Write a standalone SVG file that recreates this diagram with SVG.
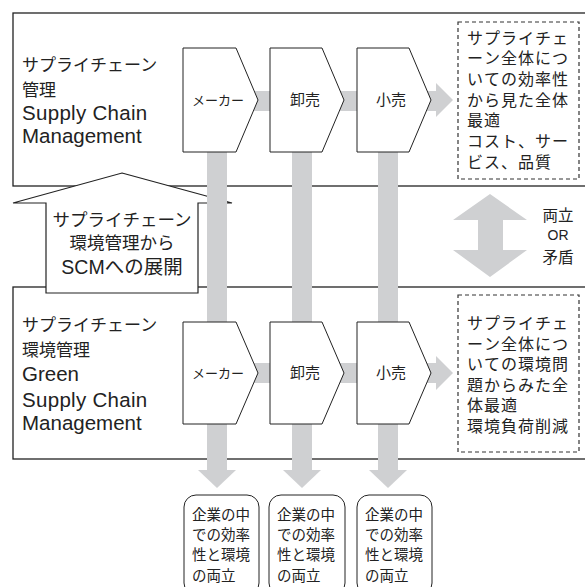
<svg xmlns="http://www.w3.org/2000/svg" width="585" height="587" viewBox="0 0 585 587">
<style>
.panel{fill:#fff;stroke:#222;stroke-width:1.3}
.chev{fill:#fff;stroke:#222;stroke-width:1}
.gray{fill:#cfd0d2;stroke:none}
.dash{fill:#fff;stroke:#333;stroke-width:1.2;stroke-dasharray:4 3}
.rbox{fill:#fff;stroke:#222;stroke-width:1}
.up{fill:#fff;stroke:#222;stroke-width:1.2}
text{font-family:"Liberation Sans","Noto Sans CJK JP",sans-serif;fill:#222}
.title{font-size:17px}
.lat{font-size:20.5px}
.note{font-size:16px}
.lbl{font-size:15px;text-anchor:middle}
.small{font-size:14.5px}
</style>
<rect width="585" height="587" fill="#fff"/>
<g id="panel-scm"><rect class="panel" x="13" y="13" width="600" height="173"/></g>
<g id="panel-gscm"><rect class="panel" x="13" y="287" width="600" height="172"/></g>
<g id="expand-arrow">
<polygon class="up" points="122,173 232,203 198,203 198,293 46,293 46,203 13,203"/>
</g>
<g id="connectors">
<rect class="gray" x="207" y="150" width="20" height="321"/>
<polygon class="gray" points="198,470 236,470 217,488"/>
<rect class="gray" x="292" y="150" width="20" height="321"/>
<polygon class="gray" points="283,470 321,470 302,488"/>
<rect class="gray" x="378" y="150" width="20" height="321"/>
<polygon class="gray" points="369,470 407,470 388,488"/>
<rect class="gray" x="245" y="91" width="30" height="20"/>
<rect class="gray" x="330" y="91" width="30" height="20"/>
<rect class="gray" x="420" y="91" width="17" height="20"/>
<polygon class="gray" points="436,83 453,100 436,117"/>
<rect class="gray" x="245" y="363" width="30" height="20"/>
<rect class="gray" x="330" y="363" width="30" height="20"/>
<rect class="gray" x="420" y="363" width="17" height="20"/>
<polygon class="gray" points="436,356 453,373 436,390"/>
<polygon class="gray" points="490,194 527,220 503,220 503,250 527,250 490,277 453,250 478,250 478,220 453,220"/>
</g>
<g id="scm-title">
<text class="title" x="22" y="71">サプライチェーン</text>
<text class="title" x="22" y="96">管理</text>
<text class="lat" x="22" y="120" style="letter-spacing:0.3px">Supply Chain</text>
<text class="lat" x="22" y="143">Management</text>
</g>
<g id="scm-maker"><polygon class="chev" points="183,48 236,48 258,100 236,152 183,152"/><text x="218" y="105" style="font-size:13px;text-anchor:middle">メーカー</text></g>
<g id="scm-wholesale"><polygon class="chev" points="270,48 322,48 344,100 322,152 270,152"/><text class="lbl" x="305" y="105">卸売</text></g>
<g id="scm-retail"><polygon class="chev" points="357,48 409,48 431,100 409,152 357,152"/><text class="lbl" x="391" y="105">小売</text></g>
<g id="scm-note">
<rect class="dash" x="458" y="22" width="121" height="157"/>
<text class="note" x="467 484 501 518 535 552" y="44">サプライチェ</text>
<text class="note" x="467 484 501 518 535 552" y="64">ーン全体につ</text>
<text class="note" x="467 484 501 518 535 552" y="85">いての効率性</text>
<text class="note" x="467 484 501 518 535 552" y="106">から見た全体</text>
<text class="note" x="467 484" y="126">最適</text>
<text class="note" x="467 484 501 518 535 552" y="147">コスト、サー</text>
<text class="note" x="467 484 501 518 535" y="168">ビス、品質</text>
</g>
<g id="expand-label">
<text x="122" y="226" style="font-size:17.5px;text-anchor:middle">サプライチェーン</text>
<text x="122" y="249" style="font-size:17.5px;text-anchor:middle">環境管理から</text>
<text x="122" y="274" style="font-size:19.5px;text-anchor:middle">SCMへの展開</text>
</g>
<g id="relation-label">
<text x="558" y="221" style="font-size:15.5px;text-anchor:middle">両立</text>
<text x="558" y="240" style="font-size:14px;text-anchor:middle">OR</text>
<text x="558" y="263" style="font-size:15.5px;text-anchor:middle">矛盾</text>
</g>
<g id="gscm-title">
<text class="title" x="22" y="331">サプライチェーン</text>
<text class="title" x="22" y="356">環境管理</text>
<text class="lat" x="22" y="381">Green</text>
<text class="lat" x="22" y="407" style="letter-spacing:0.3px">Supply Chain</text>
<text class="lat" x="22" y="430">Management</text>
</g>
<g id="gscm-maker"><polygon class="chev" points="183,322 236,322 258,373 236,424 183,424"/><text x="218" y="378" style="font-size:13px;text-anchor:middle">メーカー</text></g>
<g id="gscm-wholesale"><polygon class="chev" points="270,322 322,322 344,373 322,424 270,424"/><text class="lbl" x="305" y="378">卸売</text></g>
<g id="gscm-retail"><polygon class="chev" points="357,322 409,322 431,373 409,424 357,424"/><text class="lbl" x="391" y="378">小売</text></g>
<g id="gscm-note">
<rect class="dash" x="458" y="295" width="121" height="157"/>
<text class="note" x="467 484 501 518 535 552" y="329">サプライチェ</text>
<text class="note" x="467 484 501 518 535 552" y="350">ーン全体につ</text>
<text class="note" x="467 484 501 518 535 552" y="370">いての環境問</text>
<text class="note" x="467 484 501 518 535 552" y="391">題からみた全</text>
<text class="note" x="467 484 501" y="411">体最適</text>
<text class="note" x="467 484 501 518 535 552" y="432">環境負荷削減</text>
</g>
<g id="result-1">
<rect class="rbox" x="184" y="495" width="75" height="100" rx="12"/>
<text class="small" x="192" y="520">企業の中</text>
<text class="small" x="192" y="540">での効率</text>
<text class="small" x="192" y="560">性と環境</text>
<text class="small" x="192" y="581">の両立</text>
</g>
<g id="result-2">
<rect class="rbox" x="269" y="495" width="76" height="100" rx="12"/>
<text class="small" x="277" y="520">企業の中</text>
<text class="small" x="277" y="540">での効率</text>
<text class="small" x="277" y="560">性と環境</text>
<text class="small" x="277" y="581">の両立</text>
</g>
<g id="result-3">
<rect class="rbox" x="357" y="495" width="75" height="100" rx="12"/>
<text class="small" x="365" y="520">企業の中</text>
<text class="small" x="365" y="540">での効率</text>
<text class="small" x="365" y="560">性と環境</text>
<text class="small" x="365" y="581">の両立</text>
</g>
</svg>
